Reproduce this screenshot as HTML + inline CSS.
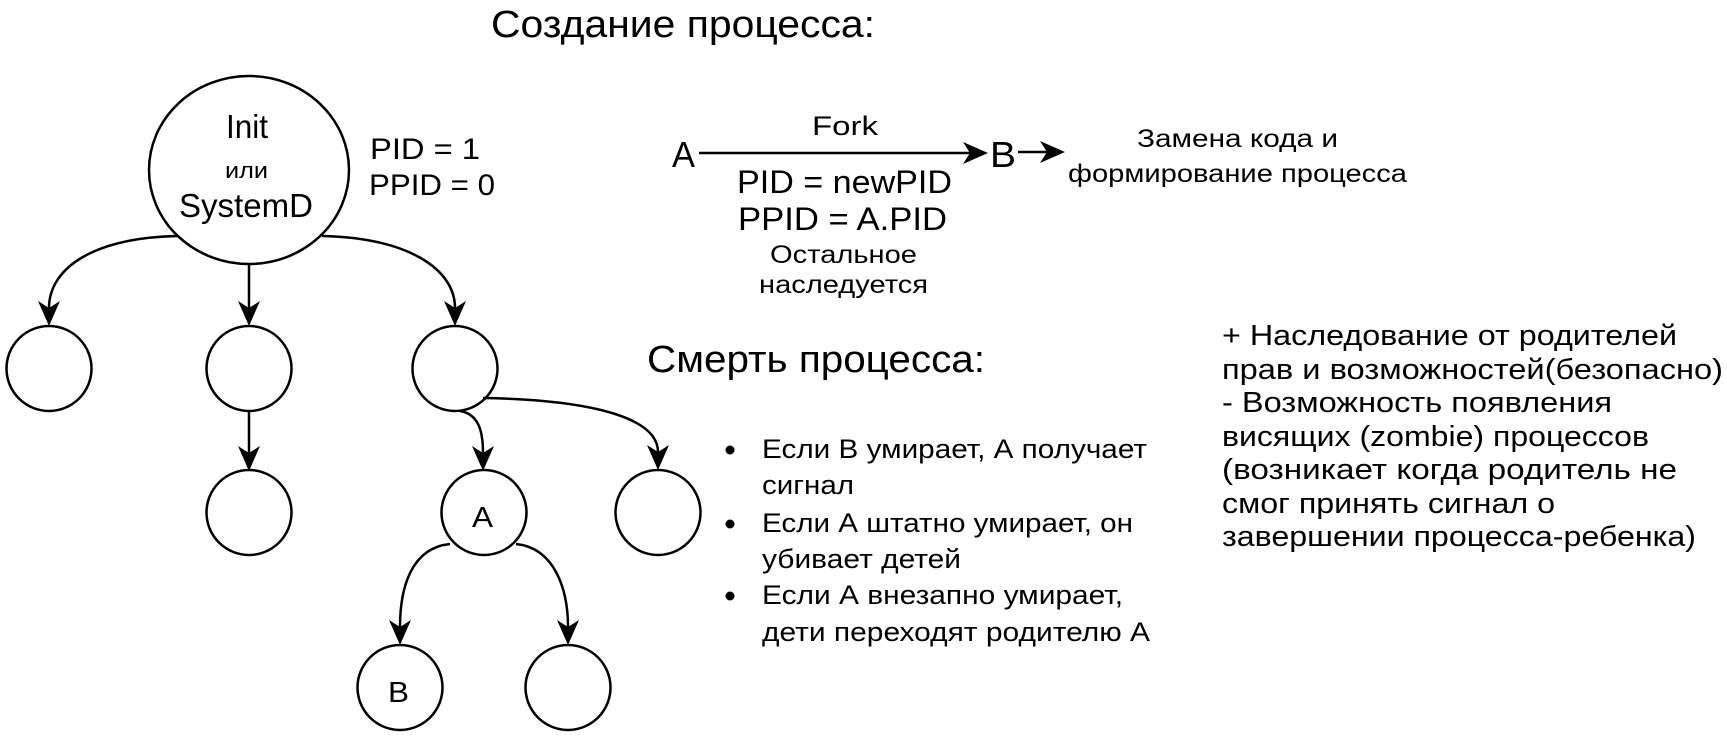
<!DOCTYPE html>
<html><head><meta charset="utf-8"><style>
html,body{margin:0;padding:0;background:#fff;}
svg{display:block;}
text{font-family:"Liberation Sans","Noto Sans CJK SC",sans-serif;fill:#000;}
</style></head><body>
<svg width="1727" height="736" viewBox="0 0 1727 736" xmlns="http://www.w3.org/2000/svg">
<g fill="none" stroke="#000" stroke-width="2.5">
<ellipse cx="249" cy="170" rx="100" ry="94"/>
<circle cx="49" cy="368.5" r="42.5"/>
<circle cx="249" cy="368.5" r="42.5"/>
<circle cx="455" cy="368.5" r="42.5"/>
<circle cx="249" cy="512.5" r="42.5"/>
<circle cx="484" cy="512.5" r="42.5"/>
<circle cx="658" cy="512.5" r="42.5"/>
<circle cx="400" cy="687.5" r="42.5"/>
<circle cx="568" cy="687.5" r="42.5"/>
<path d="M177,236 C90,238 49,270 49,308"/>
<path d="M249,265 L249,308"/>
<path d="M322,236 C410,238 455,270 455,308"/>
<path d="M249,411 L249,453"/>
<path d="M460,411 C478,414 483,430 483,453"/>
<path d="M483,398 C600,400 658,420 658,452"/>
<path d="M450,544 C410,548 400,590 400,627"/>
<path d="M516,544 C555,548 568,590 568,627"/>
<path d="M699,153 L972,153"/>
<path d="M1018,152 L1049,152"/>
</g>
<g fill="#000">
<polygon points="49,326 38,301 49,308 60,301"/>
<polygon points="249,326 238,301 249,308 260,301"/>
<polygon points="455,326 444,301 455,308 466,301"/>
<polygon points="249,471 238,446 249,453 260,446"/>
<polygon points="483,471 472,446 483,453 494,446"/>
<polygon points="658,470 647,445 658,452 669,445"/>
<polygon points="400,645 389,620 400,627 411,620"/>
<polygon points="568,645 557,620 568,627 579,620"/>
<polygon points="988,153 963,142 970,153 963,164"/>
<polygon points="1065,152 1040,141 1047,152 1040,163"/>
<circle cx="730" cy="450" r="4.5"/>
<circle cx="730" cy="524" r="4.5"/>
<circle cx="730" cy="596" r="4.5"/>
</g>
<text x="491" y="37" font-size="38" textLength="384" lengthAdjust="spacingAndGlyphs">Создание процесса:</text>
<text x="226" y="138" font-size="33" textLength="42" lengthAdjust="spacingAndGlyphs">Init</text>
<text x="225" y="178" font-size="22" textLength="43" lengthAdjust="spacingAndGlyphs">или</text>
<text x="179" y="217" font-size="33" textLength="134" lengthAdjust="spacingAndGlyphs">SystemD</text>
<text x="370" y="159" font-size="30" textLength="110" lengthAdjust="spacingAndGlyphs">PID = 1</text>
<text x="369" y="195" font-size="30" textLength="126" lengthAdjust="spacingAndGlyphs">PPID = 0</text>
<text x="472" y="527" font-size="29" textLength="21" lengthAdjust="spacingAndGlyphs">A</text>
<text x="388" y="702" font-size="29" textLength="21" lengthAdjust="spacingAndGlyphs">B</text>
<text x="672" y="167" font-size="36" textLength="23" lengthAdjust="spacingAndGlyphs">A</text>
<text x="990" y="167" font-size="36" textLength="26" lengthAdjust="spacingAndGlyphs">B</text>
<text x="812" y="135" font-size="27" textLength="66" lengthAdjust="spacingAndGlyphs">Fork</text>
<text x="737" y="193" font-size="32" textLength="215" lengthAdjust="spacingAndGlyphs">PID = newPID</text>
<text x="738" y="230" font-size="32" textLength="209" lengthAdjust="spacingAndGlyphs">PPID = A.PID</text>
<text x="770" y="263" font-size="25" textLength="147" lengthAdjust="spacingAndGlyphs">Остальное</text>
<text x="759" y="293" font-size="25" textLength="169" lengthAdjust="spacingAndGlyphs">наследуется</text>
<text x="1137" y="147" font-size="25" textLength="201" lengthAdjust="spacingAndGlyphs">Замена кода и</text>
<text x="1068" y="182" font-size="25" textLength="339" lengthAdjust="spacingAndGlyphs">формирование процесса</text>
<text x="647" y="372" font-size="38" textLength="338" lengthAdjust="spacingAndGlyphs">Смерть процесса:</text>
<g font-size="27">
<text x="762" y="458" textLength="385" lengthAdjust="spacingAndGlyphs">Если В умирает, А получает</text>
<text x="762" y="494" textLength="92" lengthAdjust="spacingAndGlyphs">сигнал</text>
<text x="762" y="532" textLength="371" lengthAdjust="spacingAndGlyphs">Если А штатно умирает, он</text>
<text x="762" y="568" textLength="199" lengthAdjust="spacingAndGlyphs">убивает детей</text>
<text x="762" y="604" textLength="361" lengthAdjust="spacingAndGlyphs">Если А внезапно умирает,</text>
<text x="762" y="641" textLength="388" lengthAdjust="spacingAndGlyphs">дети переходят родителю А</text>
</g>
<g font-size="29">
<text x="1222" y="345" textLength="455" lengthAdjust="spacingAndGlyphs">+ Наследование от родителей</text>
<text x="1222" y="379" textLength="501" lengthAdjust="spacingAndGlyphs">прав и возможностей(безопасно)</text>
<text x="1222" y="412" textLength="390" lengthAdjust="spacingAndGlyphs">- Возможность появления</text>
<text x="1222" y="446" textLength="427" lengthAdjust="spacingAndGlyphs">висящих (zombie) процессов</text>
<text x="1222" y="479" textLength="455" lengthAdjust="spacingAndGlyphs">(возникает когда родитель не</text>
<text x="1222" y="513" textLength="333" lengthAdjust="spacingAndGlyphs">смог принять сигнал о</text>
<text x="1222" y="546" textLength="474" lengthAdjust="spacingAndGlyphs">завершении процесса-ребенка)</text>
</g>
</svg>
</body></html>
